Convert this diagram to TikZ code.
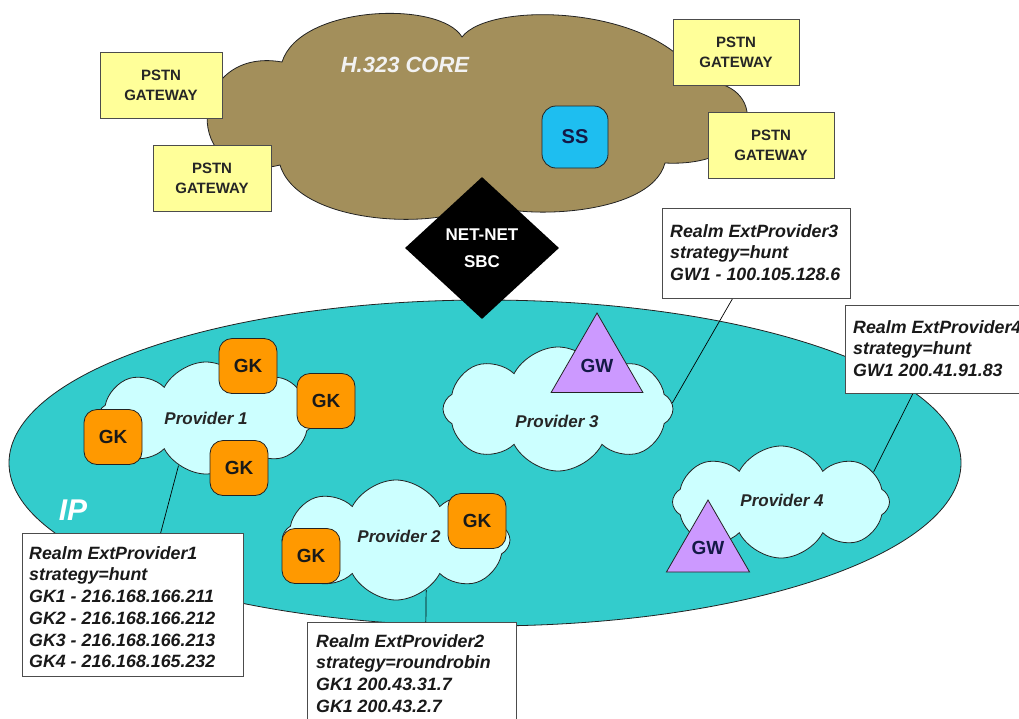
\documentclass[tikz,border=0pt]{standalone}
\usepackage{fontspec}
\setmainfont{Liberation Sans}
\usetikzlibrary{shapes.geometric,shapes.symbols,calc}
\definecolor{corec}{RGB}{163,143,91}
\definecolor{gwy}{RGB}{255,255,153}
\definecolor{ssc}{RGB}{30,190,240}
\definecolor{ipc}{RGB}{51,204,204}
\definecolor{cloudc}{RGB}{204,255,255}
\definecolor{gkc}{RGB}{255,153,0}
\definecolor{gwc}{RGB}{204,153,255}
\definecolor{edge}{RGB}{35,35,35}
\definecolor{navy}{RGB}{20,25,70}
\begin{document}
\begin{tikzpicture}[x=1pt,y=-1pt,
  outl/.style={draw=edge,line width=0.8pt},
  pstn/.style={draw=black!70,line width=0.9pt,fill=gwy,minimum width=124pt,minimum height=66pt,inner sep=0,align=center,text=black!85,font=\bfseries\fontsize{15}{20}\selectfont},
  gk/.style={outl,fill=gkc,rounded corners=13pt,minimum width=58pt,minimum height=55pt,inner sep=0,text=black!90,font=\bfseries\fontsize{19}{22}\selectfont},
  gw/.style={outl,fill=gwc,regular polygon,regular polygon sides=3,inner sep=0,text=navy,font=\bfseries\fontsize{19}{22}\selectfont},
  prov/.style={cloud,cloud puffs=8,cloud puff arc=125,cloud ignores aspect,outl,fill=cloudc,inner sep=0},
  provtxt/.style={inner sep=0,text=black!85,font=\bfseries\itshape\fontsize{17}{20}\selectfont},
  realm/.style={draw=black!70,line width=1pt,fill=white,inner sep=0,anchor=north west},
  realmtxt/.style={anchor=north west,align=left,inner sep=0,text=black!90,font=\bfseries\itshape\fontsize{17.8}{21.75}\selectfont},
  conn/.style={draw=black,line width=0.7pt}]
\useasboundingbox (0,0) rectangle (1019,718);
\clip (0,0) rectangle (1019,718);

% IP network
\node[ellipse,outl,fill=ipc,minimum width=952pt,minimum height=326pt,inner sep=0] (ip) at (485,463) {};
\node[text=white,font=\bfseries\itshape\fontsize{30}{30}\selectfont] (iplbl) at (73,510) {IP};

% H.323 core cloud
\path[outl,fill=corec] (282,62) .. controls (300,5) and (440,0) .. (462,37)
  .. controls (490,0) and (660,5) .. (700,82)
  .. controls (768,78) and (768,168) .. (665,163)
  .. controls (650,220) and (500,220) .. (482,200)
  .. controls (460,230) and (300,230) .. (280,165)
  .. controls (180,190) and (185,45) .. cycle;
\node[text=white!95!black,font=\bfseries\itshape\fontsize{22}{24}\selectfont] (core) at (405,65) {H.323 CORE};
\node[outl,fill=ssc,rounded corners=14pt,minimum width=66pt,minimum height=62pt,inner sep=0,text=navy,font=\bfseries\fontsize{20}{22}\selectfont] (ss) at (575,137) {SS};

% PSTN gateways
\node[pstn,minimum width=122pt] (pg1) at (161,85) {PSTN\\GATEWAY};
\node[pstn,minimum width=118pt] (pg2) at (212,178) {PSTN\\GATEWAY};
\node[pstn,minimum width=126pt] (pg3) at (736,52) {PSTN\\GATEWAY};
\node[pstn,minimum width=126pt] (pg4) at (771,145) {PSTN\\GATEWAY};

% SBC
\node[diamond,fill=black,minimum width=154pt,minimum height=142pt,inner sep=0,align=center,text=white,font=\bfseries\fontsize{17}{27}\selectfont] (sbc) at (482,248) {NET-NET\\SBC};

% Provider clouds
\node[prov,minimum width=217pt,minimum height=112pt] (p1) at (206,418) {};
\node[provtxt] (p1lbl) at (206,418) {Provider 1};
\node[prov,minimum width=228pt,minimum height=120pt] (p2) at (396,540) {};
\node[provtxt] (p2lbl) at (399,536) {Provider 2};
\node[prov,minimum width=230pt,minimum height=124pt] (p3) at (558,409) {};
\node[provtxt] (p3lbl) at (557,421) {Provider 3};
\node[prov,minimum width=217pt,minimum height=112pt] (p4) at (781,502) {};
\node[provtxt] (p4lbl) at (782,500) {Provider 4};

% Gatekeepers
\node[gk] (gk1) at (248,366) {GK};
\node[gk] (gk2) at (326,401) {GK};
\node[gk] (gk3) at (113,437) {GK};
\node[gk] (gk4) at (239,468) {GK};
\node[gk] (gk5) at (311,556) {GK};
\node[gk] (gk6) at (477,521) {GK};

% Gateways
\node[gw,minimum size=106pt] (gw3) at (597,366) {GW};
\node[gw,minimum size=96pt] (gw4) at (708,548) {GW};

% Realm boxes
\node[realm,minimum width=221pt,minimum height=143pt] (r1) at (22,533) {};
\node[realmtxt] (t1) at (29,546) {Realm ExtProvider1\\strategy=hunt\\GK1 - 216.168.166.211\\GK2 - 216.168.166.212\\GK3 - 216.168.166.213\\GK4 - 216.168.165.232};
\node[realm,minimum width=209pt,minimum height=110pt] (r2) at (307,622) {};
\node[realmtxt] (t2) at (316,634) {Realm ExtProvider2\\strategy=roundrobin\\GK1 200.43.31.7\\GK1 200.43.2.7};
\node[realm,minimum width=188pt,minimum height=90pt] (r3) at (662,208) {};
\node[realmtxt] (t3) at (670,224) {Realm ExtProvider3\\strategy=hunt\\GW1 - 100.105.128.6};
\node[realm,minimum width=190pt,minimum height=88pt] (r4) at (845,305) {};
\node[realmtxt] (t4) at (853,320) {Realm ExtProvider4\\strategy=hunt\\GW1 200.41.91.83};

% connectors
\draw[conn] (r1.69) -- (p1.240);
\draw[conn] (r2.76) -- (p2.301);
\draw[conn] (r3.242) -- (p3.3);
\draw[conn] (r4.238) -- (p4.18);
\end{tikzpicture}
\end{document}
